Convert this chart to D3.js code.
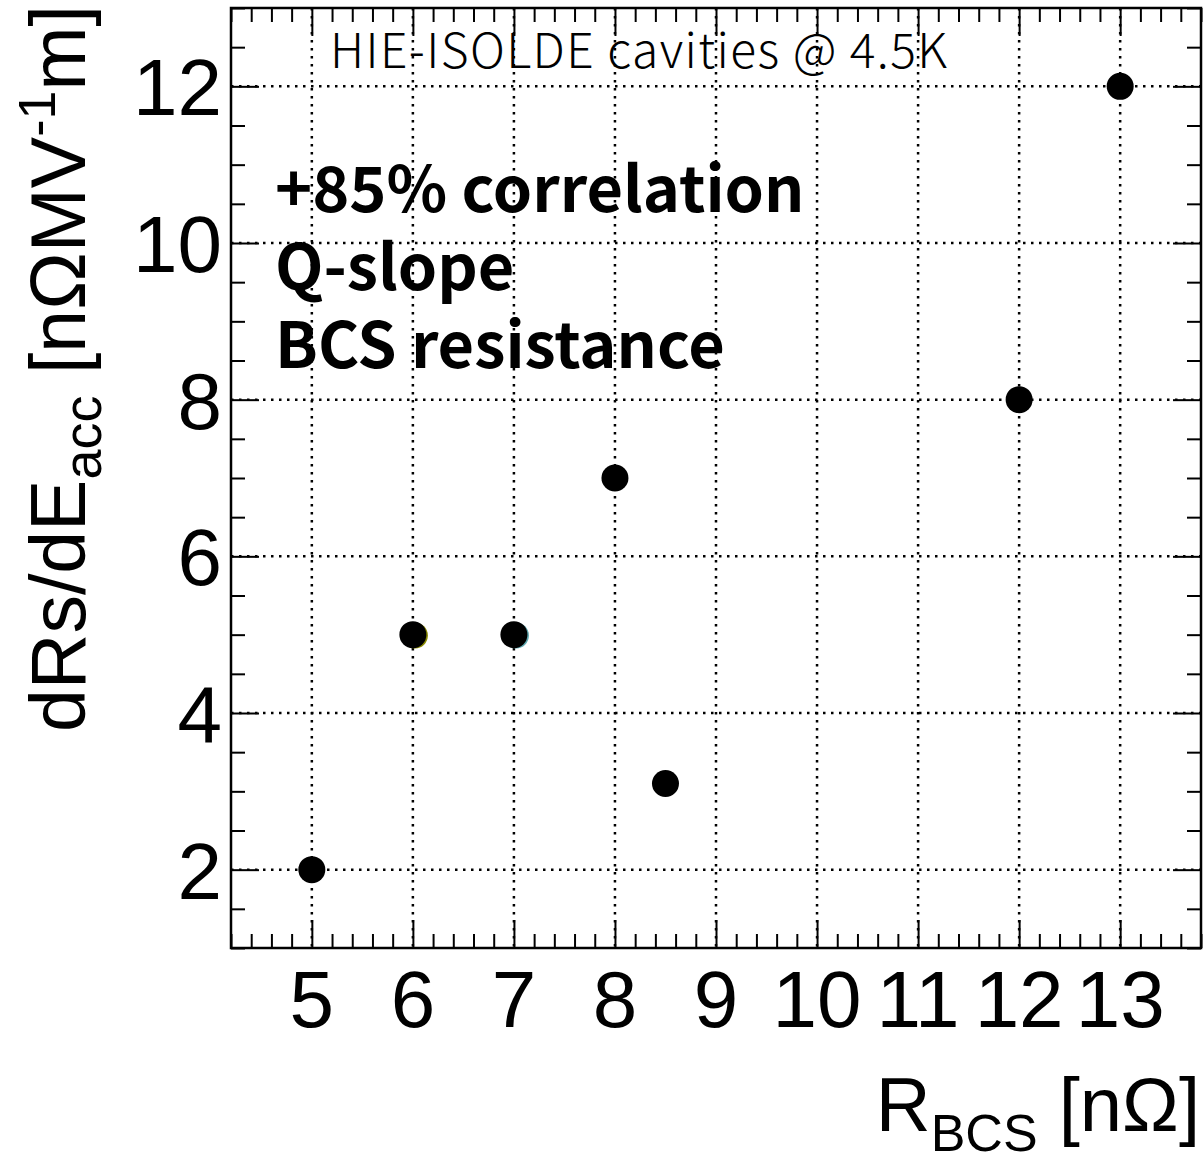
<!DOCTYPE html>
<html>
<head>
<meta charset="utf-8">
<script src="https://cdn.jsdelivr.net/npm/d3@7"></script>
<style>
  html, body { margin: 0; padding: 0; background: #fff; }
  svg { display: block; }
  .tick-label { font-family: "Liberation Sans", Arial, sans-serif; font-size: 80px; fill: #000; }
  .axis-title { font-family: "Liberation Sans", Arial, sans-serif; fill: #000; }
  .note { font-family: "Noto Sans CJK JP", "Noto Sans", sans-serif; fill: #000; }
</style>
</head>
<body>
<svg id="chart" width="1204" height="1158"></svg>
<script>
// R_BCS [nΩ] versus Q-slope dRs/dEacc for the HIE-ISOLDE cavities
const rbcs   = [5, 6, 7, 8, 8.5, 12, 13];
const qslope = [2, 5, 5, 7, 3.1, 8, 12];
// two cavities hidden beneath the black markers
const hiddenRbcs   = [6.02, 7.02];
const hiddenQslope = [4.99, 4.99];
const hiddenColors = ["#8a8a00", "#5fa8b0"];

const xTicks = [5, 6, 7, 8, 9, 10, 11, 12, 13];
const yTicks = [2, 4, 6, 8, 10, 12];
const noteLines = ["+85% correlation", "Q-slope", "BCS resistance"];
const headerText = "HIE-ISOLDE cavities @ 4.5K";

const svg = d3.select("#chart");
const frame = { left: 231, right: 1201, top: 8, bottom: 948 };

const x = d3.scaleLinear().domain([4.2, 13.8]).range([frame.left, frame.right]);
const y = d3.scaleLinear().domain([1, 13]).range([frame.bottom, frame.top]);

// dotted grid at the major ticks
const grid = svg.append("g").attr("stroke", "#000").attr("stroke-width", 2.5)
  .attr("stroke-dasharray", "2.5,5.5");
grid.selectAll("line.gx").data(xTicks).join("line")
  .attr("x1", d => x(d)).attr("x2", d => x(d))
  .attr("y1", frame.top).attr("y2", frame.bottom);
grid.selectAll("line.gy").data(yTicks).join("line")
  .attr("x1", frame.left).attr("x2", frame.right)
  .attr("y1", d => y(d)).attr("y2", d => y(d));

// inward ticks on all four sides
const xMinor = d3.range(4.2, 13.81, 0.2).map(v => +v.toFixed(2)).filter(v => !xTicks.includes(v));
const yMinor = d3.range(1, 13.01, 0.5).filter(v => !yTicks.includes(v));
const majorLen = 28, minorLen = 14;

function tickAxis(gen, scale, major, minor, transform) {
  const gMaj = svg.append("g").attr("transform", transform)
    .call(gen(scale).tickValues(major).tickSize(-majorLen).tickFormat(""));
  const gMin = svg.append("g").attr("transform", transform)
    .call(gen(scale).tickValues(minor).tickSize(-minorLen).tickFormat(""));
  [gMaj, gMin].forEach(g => {
    g.select(".domain").remove();
    g.selectAll(".tick line").attr("stroke", "#000").attr("stroke-width", 2);
  });
}
tickAxis(d3.axisBottom, x, xTicks, xMinor, `translate(0,${frame.bottom})`);
tickAxis(d3.axisTop, x, xTicks, xMinor, `translate(0,${frame.top})`);
tickAxis(d3.axisLeft, y, yTicks, yMinor, `translate(${frame.left},0)`);
tickAxis(d3.axisRight, y, yTicks, yMinor, `translate(${frame.right},0)`);

// frame
svg.append("rect")
  .attr("x", frame.left).attr("y", frame.top)
  .attr("width", frame.right - frame.left).attr("height", frame.bottom - frame.top)
  .attr("fill", "none").attr("stroke", "#000").attr("stroke-width", 2.5);

// tick labels
svg.append("g").selectAll("text").data(xTicks).join("text")
  .attr("class", "tick-label")
  .attr("x", d => x(d)).attr("y", 1027)
  .attr("text-anchor", "middle")
  .text(d => d);
svg.append("g").selectAll("text").data(yTicks).join("text")
  .attr("class", "tick-label")
  .attr("x", 222).attr("y", d => y(d) + 29)
  .attr("text-anchor", "end")
  .text(d => d);

// axis titles
const xt = svg.append("text").attr("class", "axis-title")
  .attr("x", 1200).attr("y", 1131).attr("text-anchor", "end").attr("font-size", 76);
xt.append("tspan").text("R");
xt.append("tspan").attr("font-size", 52).attr("dy", 20).text("BCS");
xt.append("tspan").attr("dy", -20).text(" [nΩ]");

const yt = svg.append("text").attr("class", "axis-title")
  .attr("transform", "translate(85,5) rotate(-90)")
  .attr("text-anchor", "end").attr("font-size", 77);
yt.append("tspan").text("dRs/dE");
yt.append("tspan").attr("font-size", 54).attr("dy", 16).text("acc");
yt.append("tspan").attr("dy", -16).text(" [nΩMV");
yt.append("tspan").attr("font-size", 52).attr("dy", -30).text("-1");
yt.append("tspan").attr("dy", 30).text("m]");

// annotations
svg.append("text").attr("class", "note")
  .attr("x", 330).attr("y", 68).attr("font-size", 48).attr("font-weight", 300)
  .attr("letter-spacing", 1.4)
  .text(headerText);
svg.append("g").selectAll("text").data(noteLines).join("text")
  .attr("class", "note")
  .attr("x", 275).attr("y", (d, i) => 212 + i * 78)
  .attr("font-size", 63).attr("font-weight", 700)
  .text(d => d);

// markers
svg.append("g").selectAll("circle").data(hiddenRbcs).join("circle")
  .attr("cx", d => x(d)).attr("cy", (d, i) => y(hiddenQslope[i]))
  .attr("r", 13).attr("fill", (d, i) => hiddenColors[i]);
svg.append("g").selectAll("circle").data(rbcs).join("circle")
  .attr("cx", d => x(d)).attr("cy", (d, i) => y(qslope[i]))
  .attr("r", 13.5).attr("fill", "#000");
</script>
</body>
</html>
